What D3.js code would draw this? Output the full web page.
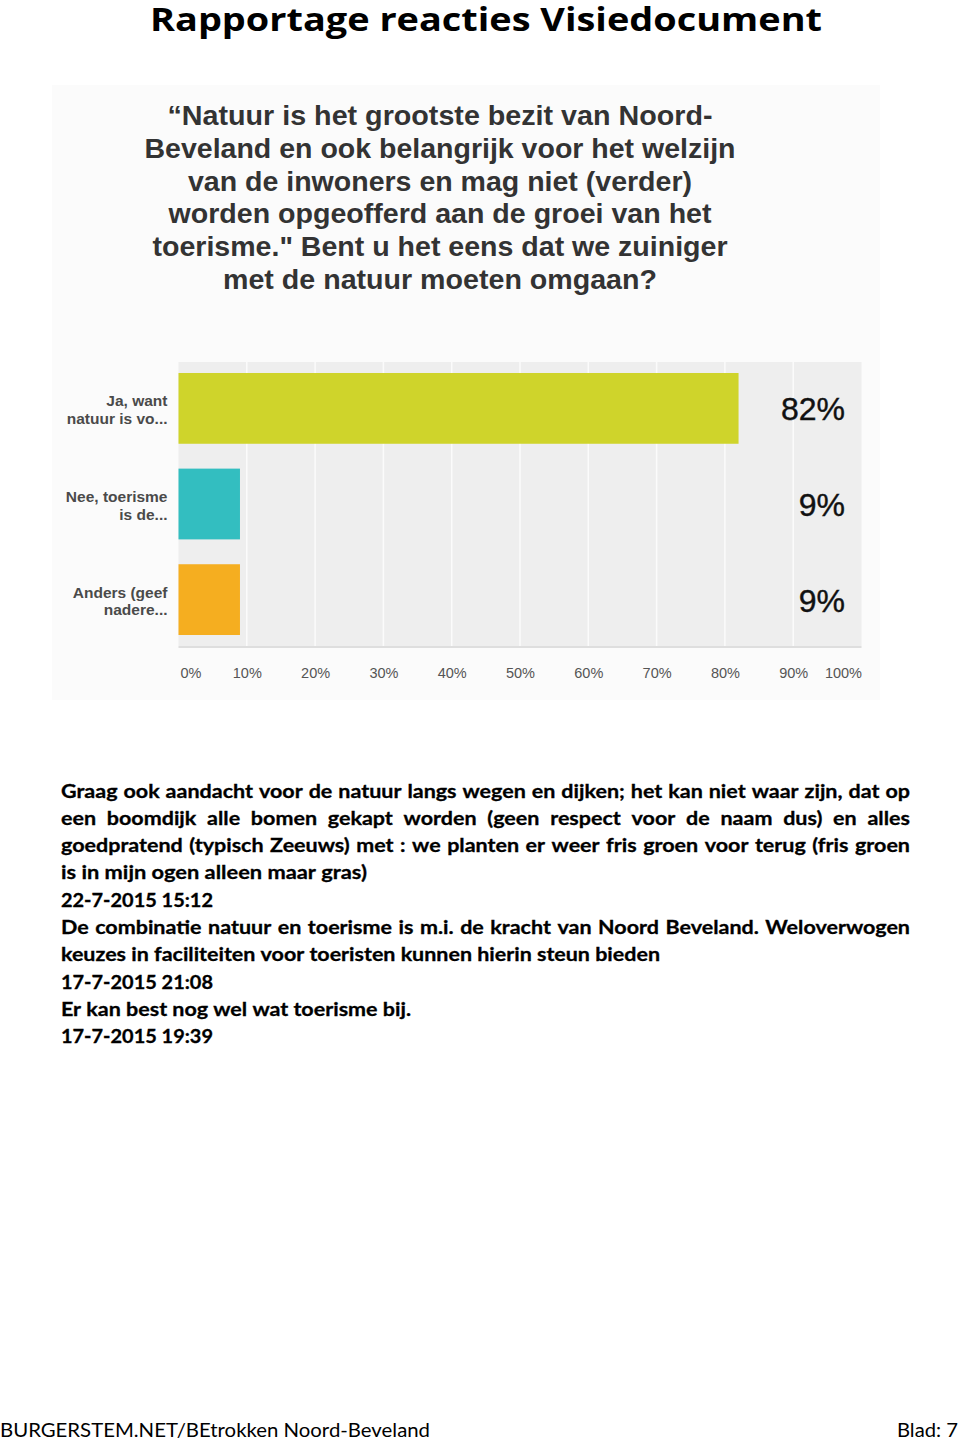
<!DOCTYPE html>
<html><head><meta charset="utf-8">
<script src="https://cdn.jsdelivr.net/npm/d3@7"></script>
<style>body{margin:0;background:#fff}svg{display:block}</style>
</head><body>
<script>
// ---------- DATA ----------
const pageTitle = "Rapportage reacties Visiedocument";
const questionLines = [
  "\u201CNatuur is het grootste bezit van Noord-",
  "Beveland en ook belangrijk voor het welzijn",
  "van de inwoners en mag niet (verder)",
  "worden opgeofferd aan de groei van het",
  "toerisme.\" Bent u het eens dat we zuiniger",
  "met de natuur moeten omgaan?"
];
const categories = ["Ja, want|natuur is vo...", "Nee, toerisme|is de...", "Anders (geef|nadere..."];
const values = [82, 9, 9];
const barColors = ["#cfd42b", "#33bec0", "#f5ae20"];
const tickValues = [0, 10, 20, 30, 40, 50, 60, 70, 80, 90, 100];
const tickLabels = ["0%", "10%", "20%", "30%", "40%", "50%", "60%", "70%", "80%", "90%", "100%"];
const commentLines = [
  "Graag ook aandacht voor de natuur langs wegen en dijken; het kan niet waar zijn, dat op",
  "een boomdijk alle bomen gekapt worden (geen respect voor de naam dus) en alles",
  "goedpratend (typisch Zeeuws) met : we planten er weer fris groen voor terug (fris groen",
  "is in mijn ogen alleen maar gras)",
  "22-7-2015 15:12",
  "De combinatie natuur en toerisme is m.i. de kracht van Noord Beveland. Weloverwogen",
  "keuzes in faciliteiten voor toeristen kunnen hierin steun bieden",
  "17-7-2015 21:08",
  "Er kan best nog wel wat toerisme bij.",
  "17-7-2015 19:39"
];
const footerLeft = "BURGERSTEM.NET/BEtrokken Noord-Beveland";
const footerRight = "Blad: 7";

// ---------- LAYOUT ----------
const W = 960, H = 1442;
const qWidths = [545, 591, 504, 543, 575, 434];
const justifiedLines = [true, true, true, false, false, true, false, false, false, false];
const lineEnds = [910, 910, 910, 367, 213, 910, 660, 213, 411, 213];
const plot = {left: 178.5, right: 861.5, top: 362, bottom: 646};

const svg = d3.select("body").append("svg").attr("width", W).attr("height", H);
svg.append("rect").attr("width", W).attr("height", H).attr("fill", "#fff");

const titleFont = "'Open Sans', Lato, sans-serif";
const bodyFont = "Lato, 'Open Sans', 'DejaVu Sans', sans-serif";
const chartFont = "'Liberation Sans', Arial, sans-serif";
const narrowFont = "'Liberation Sans Narrow', 'Liberation Sans', Arial, sans-serif";

function fit(t, w) { t.attr("textLength", w).attr("lengthAdjust", "spacingAndGlyphs"); }

// Title
const title = svg.append("text").attr("x", 150).attr("y", 31)
  .attr("font-family", titleFont).attr("font-weight", 700).attr("font-size", 32.5)
  .attr("fill", "#000").text(pageTitle);
fit(title, 672);

// Chart image background
svg.append("rect").attr("x", 52).attr("y", 85).attr("width", 828).attr("height", 615).attr("fill", "#fbfbfb");

// Question
questionLines.forEach((s, i) => {
  const t = svg.append("text").attr("x", 440 - qWidths[i] / 2).attr("y", 125 + i * 32.8)
    .attr("font-family", narrowFont).attr("font-weight", 700).attr("font-size", 27)
    .attr("fill", "#333").text(s);
  fit(t, qWidths[i]);
});

// Scales
const x = d3.scaleLinear().domain([0, 100]).range([plot.left, plot.right]);
const y = d3.scaleBand().domain(categories).range([plot.top, plot.bottom]).paddingInner(0.26).paddingOuter(0.115);

// Plot background
svg.append("rect").attr("x", plot.left).attr("y", plot.top)
  .attr("width", plot.right - plot.left).attr("height", plot.bottom - plot.top).attr("fill", "#eeeeee");
svg.append("rect").attr("x", plot.left).attr("y", plot.bottom)
  .attr("width", plot.right - plot.left).attr("height", 2).attr("fill", "#dedede");

// Grid
svg.append("g").selectAll("line").data(tickValues.slice(1, -1)).join("line")
  .attr("x1", d => x(d)).attr("x2", d => x(d)).attr("y1", plot.top).attr("y2", plot.bottom)
  .attr("stroke", "#fbfbfb").attr("stroke-width", 1.5);

// Bars
svg.append("g").selectAll("rect").data(values).join("rect")
  .attr("x", x(0)).attr("y", (d, i) => y(categories[i]))
  .attr("width", d => x(d) - x(0)).attr("height", y.bandwidth())
  .attr("fill", (d, i) => barColors[i]);

// Value labels
svg.append("g").selectAll("text").data(values).join("text")
  .attr("x", 845).attr("y", (d, i) => y(categories[i]) + y.bandwidth() / 2 + 12)
  .attr("text-anchor", "end").attr("font-family", chartFont).attr("font-size", 32)
  .attr("fill", "#111").attr("stroke", "#111").attr("stroke-width", 0.4)
  .text(d => Math.round(d) + "%");

// Category labels
categories.forEach((c, i) => {
  const cy = y(c) + y.bandwidth() / 2;
  const t = svg.append("text").attr("text-anchor", "end").attr("font-family", chartFont)
    .attr("font-weight", 700).attr("font-size", 15.5).attr("fill", "#4a4a4a");
  c.split("|").forEach((ln, j) => {
    t.append("tspan").attr("x", 167.5).attr("y", cy - 2 + j * 17.5).text(ln);
  });
});

// Axis
const axis = d3.axisBottom(x).tickValues(tickValues).tickFormat((d, i) => tickLabels[i]).tickSize(0).tickPadding(0);
const ag = svg.append("g").attr("transform", `translate(0,${plot.bottom})`).call(axis);
ag.select(".domain").remove();
ag.selectAll("text").attr("font-family", chartFont).attr("font-size", 14.5).attr("fill", "#555")
  .attr("dy", null).attr("y", 31.5)
  .attr("text-anchor", (d, i) => i === 0 ? "start" : (i === tickValues.length - 1 ? "end" : "middle"))
  .attr("dx", (d, i) => i === 0 ? 1.5 : 0);

// Comments (justified paragraph)
const left = 61, base0 = 797.5, lh = 27.3;
const g = svg.append("g").attr("font-family", bodyFont).attr("font-weight", 700).attr("font-size", 19)
  .attr("fill", "#000").attr("stroke", "#000").attr("stroke-width", 0.3);
function measure(s) {
  const t = g.append("text").text(s); const w = t.node().getComputedTextLength(); t.remove(); return w;
}
const spaceW = measure("a a") - measure("aa");
const kBase = (660 - left) / measure(commentLines[6]);
commentLines.forEach((s, i) => {
  const words = s.split(" ");
  const nat = words.map(w => measure(w));
  const natTotal = d3.sum(nat) + spaceW * (words.length - 1);
  const k = justifiedLines[i] ? kBase : (lineEnds[i] - left) / natTotal;
  const ws = nat.map(w => w * k);
  const gap = justifiedLines[i] ? (lineEnds[i] - left - d3.sum(ws)) / (words.length - 1) : spaceW * k;
  let cx = left;
  words.forEach((w, j) => {
    const t = g.append("text").attr("x", cx).attr("y", base0 + i * lh).text(w);
    fit(t, ws[j]);
    cx += ws[j] + gap;
  });
});

// Footer
const f1 = svg.append("text").attr("x", 0).attr("y", 1437).attr("font-family", bodyFont)
  .attr("font-size", 19.5).attr("fill", "#000").text(footerLeft);
fit(f1, 430);
const f2 = svg.append("text").attr("x", 958).attr("y", 1437).attr("text-anchor", "end").attr("font-family", bodyFont)
  .attr("font-size", 19.5).attr("fill", "#000").text(footerRight);
fit(f2, 61);
</script>
</body></html>
